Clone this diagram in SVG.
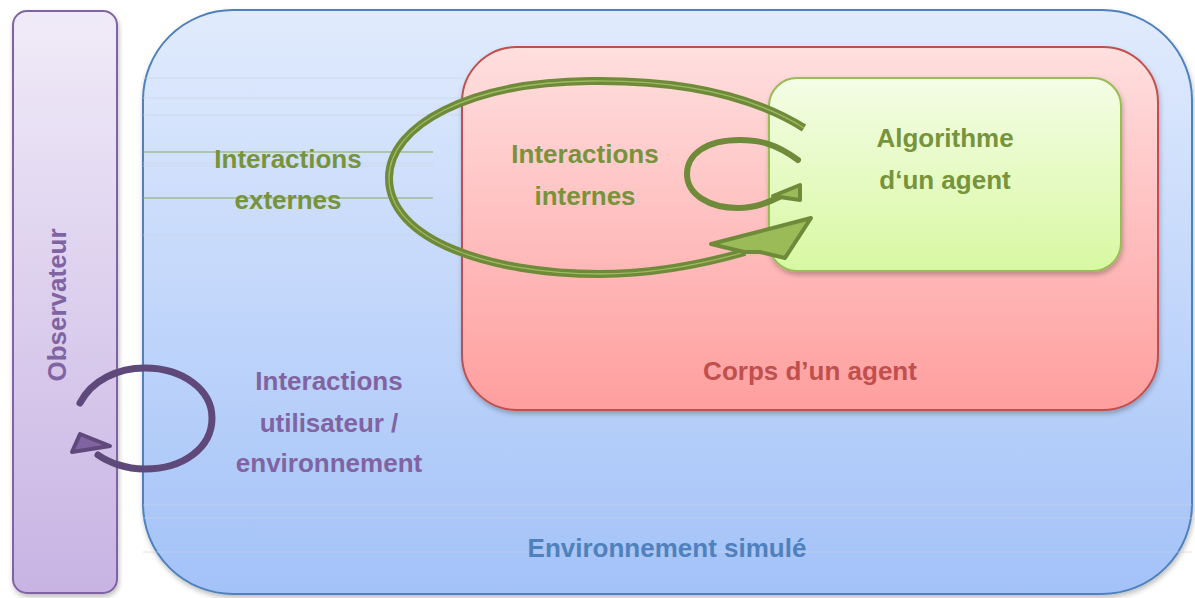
<svg xmlns="http://www.w3.org/2000/svg" width="1195" height="598" viewBox="0 0 1195 598">
<defs>
<linearGradient id="gObs" x1="0" y1="0" x2="0" y2="1"><stop offset="0" stop-color="#f0ebf8"/><stop offset="1" stop-color="#c8b3e3"/></linearGradient>
<linearGradient id="gEnv" x1="0" y1="0" x2="0" y2="1"><stop offset="0" stop-color="#e1ebfd"/><stop offset="1" stop-color="#a3c2f8"/></linearGradient>
<linearGradient id="gCorps" x1="0" y1="0" x2="0" y2="1"><stop offset="0" stop-color="#ffdfdf"/><stop offset="1" stop-color="#ff9e9e"/></linearGradient>
<linearGradient id="gAlgo" x1="0" y1="0" x2="0" y2="1"><stop offset="0" stop-color="#f4fde6"/><stop offset="1" stop-color="#d8f8a2"/></linearGradient>
<filter id="sh" x="-5%" y="-5%" width="110%" height="110%"><feDropShadow dx="1" dy="3" stdDeviation="2.5" flood-color="#000" flood-opacity="0.25"/></filter>
</defs>
<style>
.t{font-family:"Liberation Sans",Arial,sans-serif;font-weight:bold;font-size:26px;text-anchor:middle}
.green{fill:#77933c}
.purple{fill:#8064a2}
.red{fill:#c0504d}
.blue{fill:#4f81bd}
.art{stroke:#c9d2de;stroke-width:1;opacity:0.6}
.artg{stroke:#8aa85a;stroke-width:1.2}
</style>
<rect width="1195" height="598" fill="#ffffff"/>

<g id="observateur">
<rect x="13" y="11" width="104" height="582" rx="14" fill="url(#gObs)" stroke="#8064a2" stroke-width="2" filter="url(#sh)"/>
<text class="t purple" transform="translate(66,305) rotate(-90)">Observateur</text>
</g>

<g id="environnement">
<rect x="143" y="10" width="1049" height="584" rx="90" fill="url(#gEnv)" stroke="#4f81bd" stroke-width="2" filter="url(#sh)"/>
<g>
<line class="art" x1="143" y1="78" x2="462" y2="78"/>
<line class="art" x1="143" y1="98" x2="462" y2="98"/>
<line class="art" x1="143" y1="115" x2="462" y2="115"/>
<line class="art" x1="143" y1="163" x2="433" y2="163"/>
<line class="art" x1="143" y1="166" x2="433" y2="166"/>
<line class="art" x1="143" y1="235" x2="462" y2="235"/>
<line class="art" x1="143" y1="505" x2="1192" y2="505"/>
<line class="art" x1="143" y1="518" x2="1192" y2="518"/>
<line class="art" x1="143" y1="552" x2="1192" y2="552"/>
<line class="artg" x1="143" y1="152" x2="433" y2="152"/>
<line class="artg" x1="143" y1="198" x2="433" y2="198"/>
</g>
<text class="t blue" x="667" y="557">Environnement simulé</text>
</g>

<g id="corps">
<rect x="462" y="47" width="696" height="363" rx="55" fill="url(#gCorps)" stroke="#c0504d" stroke-width="2" filter="url(#sh)"/>
<text class="t red" x="810" y="380">Corps d’un agent</text>
</g>

<g id="algorithme">
<rect x="769" y="78" width="352" height="193" rx="28" fill="url(#gAlgo)" stroke="#9bbb59" stroke-width="2" filter="url(#sh)"/>
<text class="t green" x="945" y="147">Algorithme</text>
<text class="t green" x="945" y="189">d‘un agent</text>
</g>

<g id="labels">
<text class="t green" x="288" y="168">Interactions</text>
<text class="t green" x="288" y="209">externes</text>
<text class="t green" x="585" y="163">Interactions</text>
<text class="t green" x="585" y="205">internes</text>
<text class="t purple" x="329" y="390">Interactions</text>
<text class="t purple" x="329" y="432">utilisateur /</text>
<text class="t purple" x="329" y="472">environnement</text>
</g>

<g id="connectors" fill="none">
<g id="externes-loop">
<path d="M 804,128 C 740,88 660,80 590,81 C 470,82 389,125 389,178 C 389,240 490,274 600,274 C 660,274 710,262 745,252" stroke="#6f8b3a" stroke-width="8" stroke-linejoin="round"/>
<path d="M 804,128 C 740,88 660,80 590,81 C 470,82 389,125 389,178 C 389,240 490,274 600,274 C 660,274 710,262 745,252" stroke="#a6c36a" stroke-width="1.3" opacity="0.85"/>
<polygon points="711,244 811,218 785,258 760,252 744,252" fill="#9bbb59" stroke="#6f8b3a" stroke-width="4" stroke-linejoin="round"/>
</g>
<g id="internes-loop">
<path d="M 798,160 C 775,143 758,140 740,140 C 705,140 687,155 687,174 C 687,195 710,208 738,208 C 755,208 768,203 785,194" stroke="#6f8b3a" stroke-width="6" stroke-linecap="round"/>
<polygon points="773,196 800,185 800,200" fill="#9bbb59" stroke="#6f8b3a" stroke-width="4" stroke-linejoin="round"/>
</g>
<g id="utilisateur-loop">
<path d="M 80,403 C 92,380 118,368 145,368 C 183,368 212,390 212,418 C 212,448 183,469 145,469 C 125,469 108,462 98,455" stroke="#5f497a" stroke-width="7" stroke-linecap="round"/>
<polygon points="72,452 80,434 110,446" fill="#8064a2" stroke="#5f497a" stroke-width="4" stroke-linejoin="round"/>
</g>
</g>
</svg>
